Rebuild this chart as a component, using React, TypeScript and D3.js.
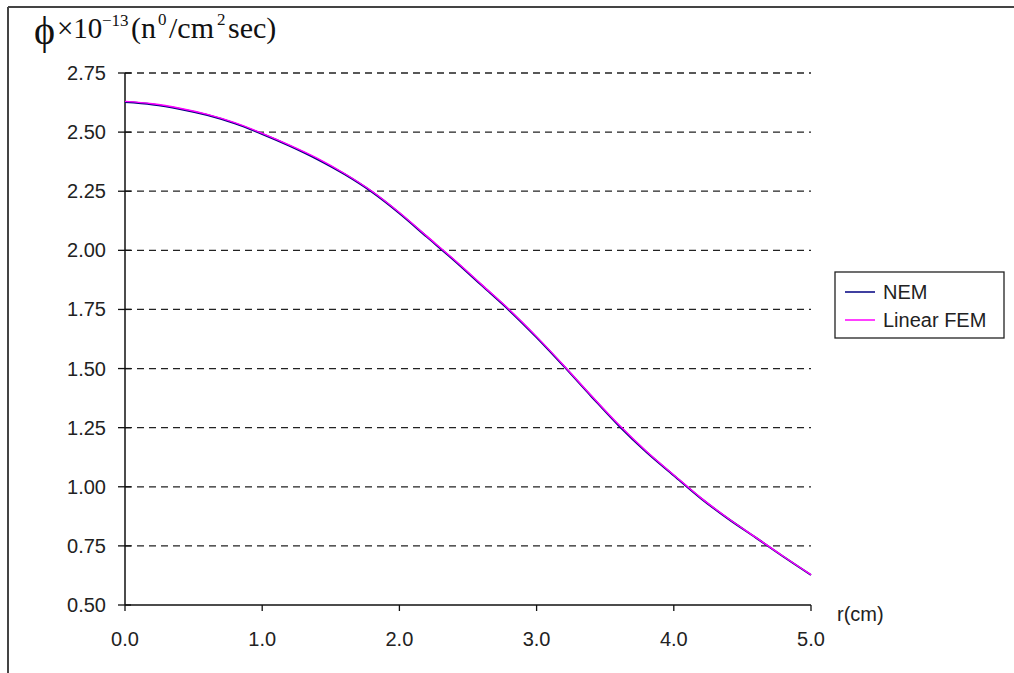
import React from "react";
import * as d3 from "d3";

// Radial position (cm)
const radius = [0, 0.2, 0.4, 0.6, 0.8, 1.0, 1.2, 1.4, 1.6, 1.8, 2.0, 2.2, 2.4, 2.6, 2.8, 3.0, 3.2, 3.4, 3.6, 3.8, 4.0, 4.2, 4.4, 4.6, 4.8, 5.0];
// Neutron flux, NEM solution (x 10^13)
const fluxNEM = [2.627, 2.617, 2.598, 2.572, 2.537, 2.492, 2.442, 2.386, 2.322, 2.247, 2.157, 2.057, 1.957, 1.852, 1.747, 1.632, 1.509, 1.382, 1.258, 1.147, 1.048, 0.95, 0.863, 0.784, 0.704, 0.627];
// Neutron flux, linear FEM solution (x 10^13)
const fluxFEM = [2.63, 2.62, 2.601, 2.575, 2.54, 2.495, 2.445, 2.39, 2.325, 2.25, 2.16, 2.06, 1.96, 1.855, 1.75, 1.635, 1.512, 1.385, 1.262, 1.15, 1.05, 0.952, 0.865, 0.785, 0.705, 0.628];

const yTicks = [0.5, 0.75, 1.0, 1.25, 1.5, 1.75, 2.0, 2.25, 2.5, 2.75];
const xTicks = [0, 1, 2, 3, 4, 5];
const seriesNames = ["NEM", "Linear FEM"];
const seriesColors = ["#000080", "#ff00ff"];

export default function App() {
  const W = 1014;
  const H = 673;
  const x = d3.scaleLinear().domain([0, 5]).range([125, 811]);
  const y = d3.scaleLinear().domain([0.5, 2.75]).range([605, 73]);
  const line = d3
    .line<number>()
    .x((_, i) => x(radius[i]))
    .y((d) => y(d))
    .curve(d3.curveMonotoneX);
  const font = "'Liberation Sans', Arial, sans-serif";
  const serif = "'Liberation Serif', 'Times New Roman', serif";

  return (
    <svg
      width={W}
      height={H}
      style={{ position: "absolute", left: 0, top: 0, background: "#fff" }}
    >
      {/* outer frame */}
      <line x1={8} y1={7} x2={W} y2={7} stroke="#444" strokeWidth={2} />
      <line x1={8} y1={7} x2={8} y2={H} stroke="#444" strokeWidth={2} />

      {/* title: flux units */}
      <g fontFamily={serif} fill="#111">
        <text x={34} y={44} fontSize={40}>ϕ</text>
        <text x={57} y={38} fontSize={29}>×10</text>
        <text x={102} y={26} fontSize={17}>−13</text>
        <text x={131} y={38} fontSize={30}>(n</text>
        <text x={158} y={25} fontSize={17}>0</text>
        <text x={169} y={38} fontSize={30}>/cm</text>
        <text x={217} y={25} fontSize={17}>2</text>
        <text x={228} y={38} fontSize={30}>sec)</text>
      </g>

      {/* gridlines */}
      {yTicks.slice(1).map((t) => (
        <line
          key={"g" + t}
          x1={x(0)}
          x2={x(5)}
          y1={y(t)}
          y2={y(t)}
          stroke="#222"
          strokeWidth={1.3}
          strokeDasharray="7,5"
        />
      ))}

      {/* y axis */}
      <line x1={x(0)} x2={x(0)} y1={y(2.75)} y2={y(0.5)} stroke="#111" strokeWidth={1.5} />
      {yTicks.map((t) => (
        <g key={"y" + t}>
          <line x1={x(0) - 7} x2={x(0) + 6} y1={y(t)} y2={y(t)} stroke="#111" strokeWidth={1.3} />
          <text
            x={106}
            y={y(t) + 7}
            textAnchor="end"
            fontFamily={font}
            fontSize={20}
            fill="#222"
          >
            {t.toFixed(2)}
          </text>
        </g>
      ))}

      {/* x axis */}
      <line x1={x(0)} x2={x(5)} y1={y(0.5)} y2={y(0.5)} stroke="#111" strokeWidth={1.5} />
      {xTicks.map((t) => (
        <g key={"x" + t}>
          <line x1={x(t)} x2={x(t)} y1={y(0.5)} y2={y(0.5) + 6} stroke="#111" strokeWidth={1.3} />
          <text
            x={x(t)}
            y={646}
            textAnchor="middle"
            fontFamily={font}
            fontSize={20}
            fill="#222"
          >
            {t.toFixed(1)}
          </text>
        </g>
      ))}
      <text x={837} y={621} fontFamily={font} fontSize={20} fill="#222">
        r(cm)
      </text>

      {/* series */}
      <path d={line(fluxNEM) ?? ""} fill="none" stroke={seriesColors[0]} strokeWidth={2} />
      <path d={line(fluxFEM) ?? ""} fill="none" stroke={seriesColors[1]} strokeWidth={1.4} />

      {/* legend */}
      <rect x={835} y={272} width={169} height={66} fill="#fff" stroke="#222" strokeWidth={1.3} />
      {seriesNames.map((n, i) => (
        <g key={n}>
          <line
            x1={845}
            x2={875}
            y1={292 + i * 28}
            y2={292 + i * 28}
            stroke={seriesColors[i]}
            strokeWidth={1.5}
          />
          <text x={883} y={299 + i * 28} fontFamily={font} fontSize={20} fill="#222">
            {n}
          </text>
        </g>
      ))}
    </svg>
  );
}
